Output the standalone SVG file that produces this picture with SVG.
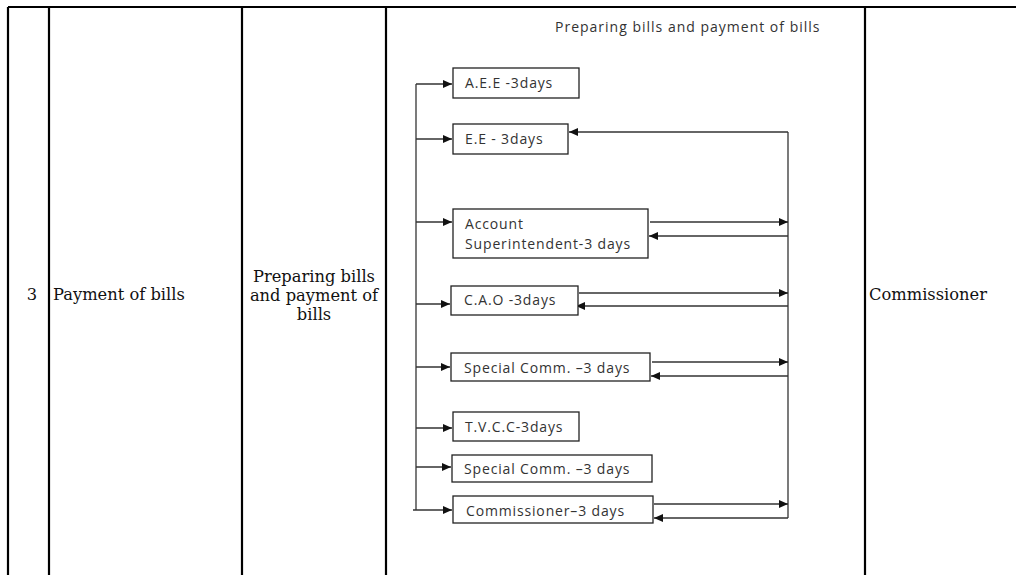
<svg xmlns="http://www.w3.org/2000/svg" width="1016" height="575" viewBox="0 0 1016 575">
<defs>
<style>
.grid{stroke:#000;stroke-width:2.2;fill:none}
.serif{font-family:"DejaVu Serif","Liberation Serif",serif;font-size:16.3px;fill:#111}
.box{fill:#fff;stroke:#222;stroke-width:1.3}
.lbl{font-family:"Open Sans","Liberation Sans",sans-serif;font-size:14px;fill:#333;letter-spacing:0.85px}
.ttl{font-family:"Open Sans","Liberation Sans",sans-serif;font-size:14px;fill:#333;letter-spacing:1px}
.ln{stroke:#333;stroke-width:1.3;fill:none}
</style>
<marker id="ah" markerUnits="userSpaceOnUse" markerWidth="10" markerHeight="8" refX="9" refY="4" orient="auto">
<path d="M0,0 L9,4 L0,8 Z" fill="#111"/>
</marker>
</defs>
<rect width="1016" height="575" fill="#fff"/>
<g id="table">
<path class="grid" d="M8,7 H1016 M8,7 V575 M49,7 V575 M242,7 V575 M386,7 V575 M865,7 V575"/>
<text class="serif" x="32" y="300" text-anchor="middle">3</text>
<text class="serif" x="53" y="300">Payment of bills</text>
<text class="serif" x="314" text-anchor="middle"><tspan x="314" y="282">Preparing bills</tspan><tspan x="314" y="301">and payment of</tspan><tspan x="314" y="320">bills</tspan></text>
<text class="serif" x="869" y="300">Commissioner</text>
<text class="ttl" x="555" y="32">Preparing bills and payment of bills</text>
</g>
<g id="connectors">
<path class="ln" d="M416,84 V510"/>
<path class="ln" marker-end="url(#ah)" d="M416,84 H452"/>
<path class="ln" marker-end="url(#ah)" d="M416,139 H452"/>
<path class="ln" marker-end="url(#ah)" d="M416,222 H452"/>
<path class="ln" marker-end="url(#ah)" d="M416,304 H450"/>
<path class="ln" marker-end="url(#ah)" d="M416,367 H450"/>
<path class="ln" marker-end="url(#ah)" d="M416,428 H452"/>
<path class="ln" marker-end="url(#ah)" d="M416,467 H451"/>
<path class="ln" marker-end="url(#ah)" d="M413,510 H452"/>
<path class="ln" d="M788,132 V518"/>
<path class="ln" marker-end="url(#ah)" d="M788,132 H569"/>
<path class="ln" marker-end="url(#ah)" d="M650,222 H788"/>
<path class="ln" marker-end="url(#ah)" d="M788,236 H649"/>
<path class="ln" marker-end="url(#ah)" d="M579,293 H788"/>
<path class="ln" marker-end="url(#ah)" d="M788,306 H576"/>
<path class="ln" marker-end="url(#ah)" d="M652,362 H788"/>
<path class="ln" marker-end="url(#ah)" d="M788,376 H651"/>
<path class="ln" marker-end="url(#ah)" d="M654,504 H788"/>
<path class="ln" marker-end="url(#ah)" d="M788,518 H654"/>
</g>
<g id="n-aee"><rect class="box" x="453" y="68" width="126" height="30"/><text class="lbl" x="465" y="88">A.E.E -3days</text></g>
<g id="n-ee"><rect class="box" x="453" y="124" width="115" height="30"/><text class="lbl" x="465" y="144">E.E - 3days</text></g>
<g id="n-as"><rect class="box" x="453" y="209" width="195" height="49"/><text class="lbl" x="465" y="229">Account</text><text class="lbl" x="465" y="249">Superintendent-3 days</text></g>
<g id="n-cao"><rect class="box" x="451" y="286" width="127" height="29"/><text class="lbl" x="464" y="305">C.A.O -3days</text></g>
<g id="n-sc1"><rect class="box" x="451" y="353" width="199" height="28"/><text class="lbl" x="464" y="373">Special Comm. –3 days</text></g>
<g id="n-tvcc"><rect class="box" x="453" y="412" width="126" height="29"/><text class="lbl" x="465" y="432">T.V.C.C-3days</text></g>
<g id="n-sc2"><rect class="box" x="452" y="455" width="200" height="27"/><text class="lbl" x="464" y="474">Special Comm. –3 days</text></g>
<g id="n-comm"><rect class="box" x="453" y="496" width="200" height="27"/><text class="lbl" x="466" y="516">Commissioner–3 days</text></g>
</svg>
